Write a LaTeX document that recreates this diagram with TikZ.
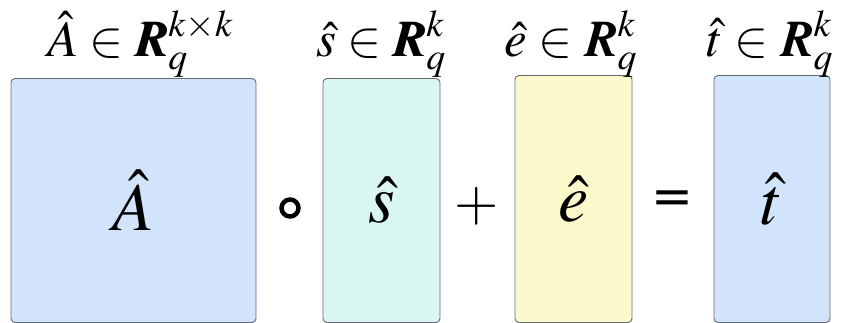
\documentclass[tikz,border=0pt]{standalone}
\usepackage[no-math]{fontspec}
\usepackage{mathptmx}
\usepackage{bm}
\newfontfamily\opfont{DejaVu Sans}
\definecolor{matblue}{HTML}{D2E4FB}
\definecolor{vecmint}{HTML}{DAF6F2}
\definecolor{vecyellow}{HTML}{FCFACD}
\definecolor{frame}{HTML}{666A70}
\tikzset{
  mat/.style={draw=frame, line width=0.9pt, rounded corners=4pt, inner sep=0pt,
    font=\fontsize{68}{80}\selectfont},
  lbl/.style={anchor=base, inner sep=0pt, font=\fontsize{51}{60}\selectfont},
  op/.style={inner sep=0pt, font=\opfont\fontsize{50}{60}\selectfont}
}
\begin{document}
\begin{tikzpicture}[x=1pt,y=-1pt]
    \useasboundingbox (0,0) rectangle (842,323);

    % Matrix and vectors
    \node[mat, fill=matblue, minimum width=245pt, minimum height=244pt] (A) at (133.5,200.5) {$\hat{A}$};
    \node[mat, fill=vecmint, minimum width=117pt, minimum height=244pt] (s) at (381.5,200.5) {$\hat{s}$};
    \node[mat, fill=vecyellow, minimum width=117pt, minimum height=247pt] (e) at (573.5,199) {$\hat{e}$};
    \node[mat, fill=matblue, minimum width=116pt, minimum height=247pt] (t) at (772,199) {$\hat{t}$};

    % Operators
    \node[circle, draw, line width=4.5pt, minimum size=17pt, inner sep=0pt] (circ) at (290,208) {};
    \node[inner sep=0pt, font=\fontsize{57}{64}\selectfont] (plus) at (477,206) {$+$};
    \node[op] (eq) at (672,202) {=};

    % Labels
    \node[lbl] (Alab) at (140,57) {$\hat{A}\in\bm{R}_q^{k\times k}$};
    \node[lbl] (slab) at (381,57) {$\hat{s}\in\bm{R}_q^{k}$};
    \node[lbl] (elab) at (571,57) {$\hat{e}\in\bm{R}_q^{k}$};
    \node[lbl] (tlab) at (770,57) {$\hat{t}\in\bm{R}_q^{k}$};
\end{tikzpicture}
\end{document}
